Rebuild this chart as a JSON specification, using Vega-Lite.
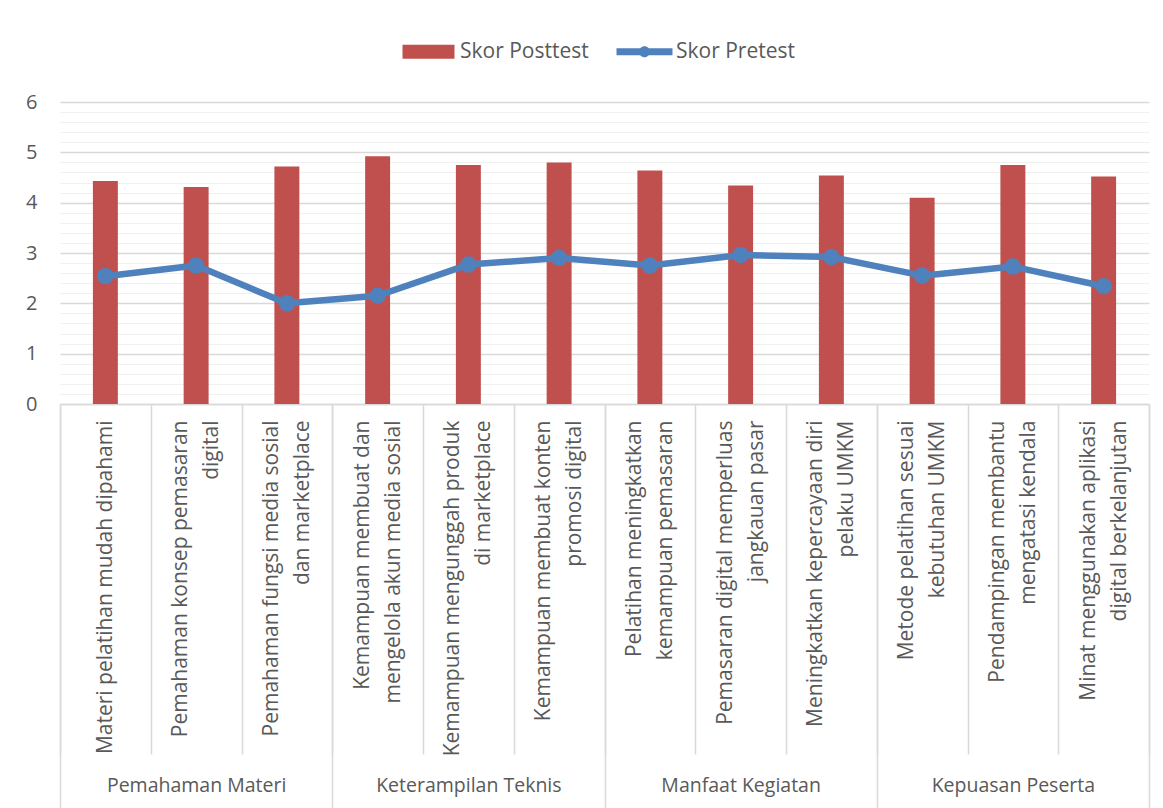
{
  "$schema": "https://vega.github.io/schema/vega-lite/v6.json",
  "width": 1089,
  "height": 302,
  "autosize": "none",
  "padding": {"left": 60, "top": 102, "right": 14, "bottom": 404},
  "background": "white",
  "config": {
    "view": {"stroke": null},
    "font": "Open Sans",
    "axis": {"labelFont": "Open Sans", "labelColor": "#595959", "labelFontWeight": "normal"},
    "legend": {"labelFont": "Open Sans", "labelColor": "#595959"}
  },
  "data": {
    "values": [
      {"group": "Pemahaman Materi", "item": "Materi pelatihan mudah dipahami", "Skor Posttest": 4.43, "Skor Pretest": 2.54},
      {"group": "Pemahaman Materi", "item": "Pemahaman konsep pemasaran|digital", "Skor Posttest": 4.31, "Skor Pretest": 2.75},
      {"group": "Pemahaman Materi", "item": "Pemahaman fungsi media sosial|dan marketplace", "Skor Posttest": 4.72, "Skor Pretest": 2.0},
      {"group": "Keterampilan Teknis", "item": "Kemampuan membuat dan|mengelola akun media sosial", "Skor Posttest": 4.92, "Skor Pretest": 2.15},
      {"group": "Keterampilan Teknis", "item": "Kemampuan mengunggah produk|di marketplace", "Skor Posttest": 4.75, "Skor Pretest": 2.77},
      {"group": "Keterampilan Teknis", "item": "Kemampuan membuat konten|promosi digital", "Skor Posttest": 4.8, "Skor Pretest": 2.9},
      {"group": "Manfaat Kegiatan", "item": "Pelatihan meningkatkan|kemampuan pemasaran", "Skor Posttest": 4.64, "Skor Pretest": 2.75},
      {"group": "Manfaat Kegiatan", "item": "Pemasaran digital memperluas|jangkauan pasar", "Skor Posttest": 4.34, "Skor Pretest": 2.96},
      {"group": "Manfaat Kegiatan", "item": "Meningkatkan kepercayaan diri|pelaku UMKM", "Skor Posttest": 4.54, "Skor Pretest": 2.92},
      {"group": "Kepuasan Peserta", "item": "Metode pelatihan sesuai|kebutuhan UMKM", "Skor Posttest": 4.1, "Skor Pretest": 2.55},
      {"group": "Kepuasan Peserta", "item": "Pendampingan membantu|mengatasi kendala", "Skor Posttest": 4.75, "Skor Pretest": 2.73},
      {"group": "Kepuasan Peserta", "item": "Minat menggunakan aplikasi|digital berkelanjutan", "Skor Posttest": 4.52, "Skor Pretest": 2.34}
    ]
  },
  "layer": [
    {
      "encoding": {
        "x": {
          "field": "item", "type": "nominal", "sort": null,
          "scale": {"type": "band", "paddingInner": 0, "paddingOuter": 0},
          "axis": {
            "orient": "bottom", "title": null, "labelAngle": 270,
            "labelAlign": "right", "labelBaseline": "middle",
            "labelExpr": "split(datum.label, '|')",
            "labelLineHeight": 31, "labelFontSize": 21, "labelLimit": 0,
            "labelOverlap": false, "labelPadding": -334,
            "labelOffset": {"condition": {"test": "indexof(datum.label, '|') >= 0", "value": -15.5}, "value": 0},
            "tickBand": "extent", "tickSize": 350, "tickColor": "#D9D9D9", "tickWidth": 1.5,
            "domainColor": "#D9D9D9", "domainWidth": 1.5, "grid": false
          }
        }
      },
      "layer": [
        {
          "mark": {"type": "bar", "color": "#C0504D", "width": {"band": 0.275}},
          "encoding": {
            "y": {
              "field": "Skor Posttest", "type": "quantitative",
              "scale": {"domain": [0, 6], "nice": false, "zero": true},
              "axis": {
                "title": null, "domain": false, "ticks": false, "tickCount": 100, "format": ".0f",
                "values": [0, 0.2, 0.4, 0.6, 0.8, 1, 1.2, 1.4, 1.6, 1.8, 2, 2.2, 2.4, 2.6, 2.8, 3, 3.2, 3.4, 3.6, 3.8, 4, 4.2, 4.4, 4.6, 4.8, 5, 5.2, 5.4, 5.6, 5.8, 6],
                "labelExpr": "datum.value % 1 === 0 ? datum.label : ''",
                "labelOverlap": false, "labelFontSize": 20, "labelPadding": 23,
                "grid": true,
                "gridColor": {"condition": {"test": "datum.value % 1 === 0", "value": "#D9D9D9"}, "value": "#F0F0F0"},
                "gridWidth": {"condition": {"test": "datum.value % 1 === 0", "value": 1.5}, "value": 1.2}
              }
            }
          }
        },
        {
          "mark": {"type": "line", "color": "#4F81BD", "strokeWidth": 6.5, "strokeJoin": "round", "strokeCap": "round"},
          "encoding": {"y": {"field": "Skor Pretest", "type": "quantitative"}}
        },
        {
          "mark": {"type": "circle", "color": "#4F81BD", "size": 270, "opacity": 1},
          "encoding": {"y": {"field": "Skor Pretest", "type": "quantitative"}}
        }
      ]
    },
    {
      "transform": [{"fold": ["Skor Posttest", "Skor Pretest"], "as": ["series", "score"]}],
      "mark": {"type": "point", "filled": true, "opacity": 0},
      "encoding": {
        "x": {
          "field": "group", "type": "nominal", "sort": null,
          "scale": {"type": "band", "paddingInner": 0, "paddingOuter": 0},
          "axis": {
            "orient": "bottom", "title": null, "labelAngle": 0,
            "labelAlign": "center", "labelBaseline": "middle",
            "labelFontSize": 19.5, "labelLimit": 0, "labelOverlap": false,
            "labelPadding": -23, "domain": false,
            "tickBand": "extent", "tickSize": 404, "tickColor": "#D9D9D9", "tickWidth": 1.5,
            "grid": false
          }
        },
        "color": {
          "field": "series", "type": "nominal",
          "scale": {"domain": ["Skor Posttest", "Skor Pretest"], "range": ["#C0504D", "#4F81BD"]},
          "legend": {
            "orient": "none", "legendX": 342, "legendY": -61, "direction": "horizontal",
            "title": null, "padding": 0, "labelFontSize": 21, "symbolSize": 400,
            "symbolStrokeWidth": 0, "symbolOpacity": 1, "symbolOffset": 16, "labelOffset": 21,
            "columnPadding": 27
          }
        },
        "shape": {
          "field": "series", "type": "nominal",
          "scale": {"domain": ["Skor Posttest", "Skor Pretest"], "range": ["M-2.6,-0.7H2.6V0.7H-2.6Z", "M-2.8,-0.35H2.8V0.35H-2.8Z M0.55,0A0.55,0.55 0 1,1 -0.55,0A0.55,0.55 0 1,1 0.55,0Z"]},
          "legend": {
            "orient": "none", "legendX": 342, "legendY": -61, "direction": "horizontal",
            "title": null, "padding": 0, "labelFontSize": 21, "symbolSize": 400,
            "symbolStrokeWidth": 0, "symbolOpacity": 1, "symbolOffset": 16, "labelOffset": 21,
            "columnPadding": 27
          }
        }
      }
    }
  ],
  "resolve": {"scale": {"x": "independent"}}
}
